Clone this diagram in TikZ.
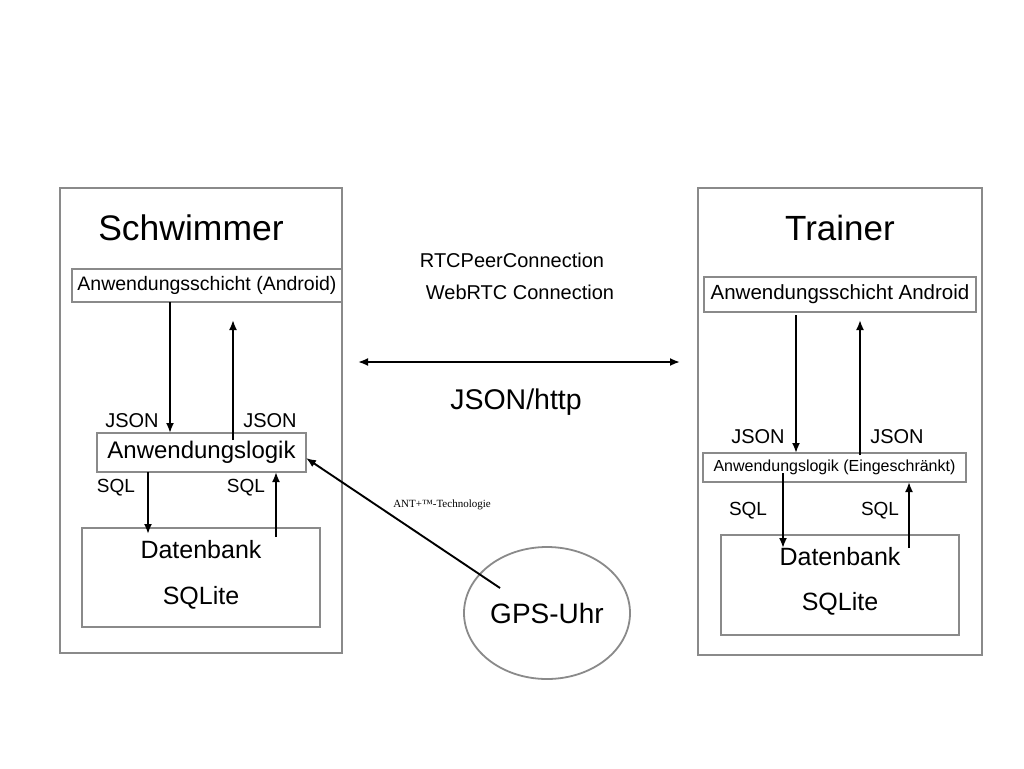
\documentclass[tikz,border=0pt]{standalone}
\usepackage{fontspec}
\setmainfont{Liberation Sans}
\newfontfamily\serifant{Liberation Serif}
\usetikzlibrary{arrows.meta,shapes.geometric}
\definecolor{boxgray}{HTML}{8A8A8A}
\begin{document}
\begin{tikzpicture}[x=1pt,y=-1pt,
  frame/.style={draw=boxgray,line width=1.8pt,fill=white,inner sep=0pt,outer sep=0pt},
  lbl/.style={inner sep=0pt,outer sep=0pt},
  arr/.style={line width=1.9pt,-{Latex[length=10pt,width=8pt]}},
  darr/.style={line width=1.9pt,{Latex[length=10pt,width=8pt]}-{Latex[length=10pt,width=8pt]}}]
\useasboundingbox (0,0) rectangle (1024,768);
\fill[white] (0,0) rectangle (1024,768);
% outer boxes
\node[frame,minimum width=282,minimum height=465] (left) at (201,420.5) {};
\node[frame,minimum width=284,minimum height=467] (right) at (840,421.5) {};
\node[lbl,font=\fontsize{35.5}{40}\selectfont] (schw) at (191,228) {Schwimmer};
\node[lbl,font=\fontsize{35}{40}\selectfont] (trainer) at (840,228) {Trainer};
% left inner
\node[frame,minimum width=270,minimum height=33,font=\fontsize{19.5}{24}\selectfont] (lschicht) at (207,285.5) {Anwendungsschicht (Android)};
\node[frame,minimum width=209,minimum height=39,font=\fontsize{24}{28}\selectfont] (llogik) at (201.5,452.5) {Anwendungslogik};
\node[frame,minimum width=238,minimum height=99] (ldb) at (201,577.5) {};
\node[lbl,font=\fontsize{25}{30}\selectfont] (ldbt) at (201,550) {Datenbank};
\node[lbl,font=\fontsize{25}{30}\selectfont] (ldbs) at (201,598) {SQLite};
% right inner
\node[frame,minimum width=272,minimum height=35,font=\fontsize{20.5}{25}\selectfont] (rschicht) at (840,294.5) {Anwendungsschicht Android};
\node[frame,minimum width=263,minimum height=29,font=\fontsize{16}{19}\selectfont] (rlogik) at (834.5,467.5) {Anwendungslogik (Eingeschränkt)};
\node[frame,minimum width=238,minimum height=100] (rdb) at (840,585) {};
\node[lbl,font=\fontsize{25}{30}\selectfont] (rdbt) at (840,557) {Datenbank};
\node[lbl,font=\fontsize{25}{30}\selectfont] (rdbs) at (840,604) {SQLite};
% labels
\node[lbl,font=\fontsize{20}{24}\selectfont] (lj1) at (132,421) {JSON};
\node[lbl,font=\fontsize{20}{24}\selectfont] (lj2) at (270,421) {JSON};
\node[lbl,font=\fontsize{19}{23}\selectfont] (ls1) at (116,488) {SQL};
\node[lbl,font=\fontsize{19}{23}\selectfont] (ls2) at (246,488) {SQL};
\node[lbl,font=\fontsize{20}{24}\selectfont] (rj1) at (758,437) {JSON};
\node[lbl,font=\fontsize{20}{24}\selectfont] (rj2) at (897,437) {JSON};
\node[lbl,font=\fontsize{19}{23}\selectfont] (rs1) at (748,511) {SQL};
\node[lbl,font=\fontsize{19}{23}\selectfont] (rs2) at (880,511) {SQL};
\node[lbl,font=\fontsize{20}{24}\selectfont] (rtc) at (512,260) {RTCPeerConnection};
\node[lbl,font=\fontsize{20}{24}\selectfont] (web) at (520,292) {WebRTC Connection};
\node[lbl,font=\fontsize{28.5}{32}\selectfont] (jh) at (516,402) {JSON/http};
% GPS
\node[draw=boxgray,line width=1.8pt,ellipse,minimum width=166,minimum height=132,inner sep=0pt,font=\fontsize{28}{32}\selectfont] (gps) at (547,613) {GPS-Uhr};
\node[lbl,font=\serifant\fontsize{11}{13}\selectfont] (ant) at (442,505) {ANT+™-Technologie};
% arrows left
\coordinate (lup1) at (233,440);
\coordinate (lup2) at (233,320);
\draw[arr] (lschicht.south -| 170,0) -- (llogik.north -| 170,0);
\draw[arr] (lup1) -- (lup2);
\draw[arr] (llogik.south -| 148,0) -- (148,534);
\draw[arr] (276,537) -- (llogik.south -| 276,0);
% arrows right
\coordinate (rdn1) at (796,315);
\coordinate (rup1) at (860,455);
\coordinate (rup2) at (860,320);
\draw[arr] (rdn1) -- (rlogik.north -| 796,0);
\draw[arr] (rup1) -- (rup2);
\draw[arr] (783,473) -- (783,548);
\draw[arr] (909,548) -- (rlogik.south -| 909,0);
% middle
\draw[darr,shorten <=16pt,shorten >=18pt] (left.east |- 0,362) -- (right.west |- 0,362);
\coordinate (gstart) at (500,588);
\draw[arr] (gstart) -- (llogik.east |- 0,458);
\end{tikzpicture}
\end{document}
